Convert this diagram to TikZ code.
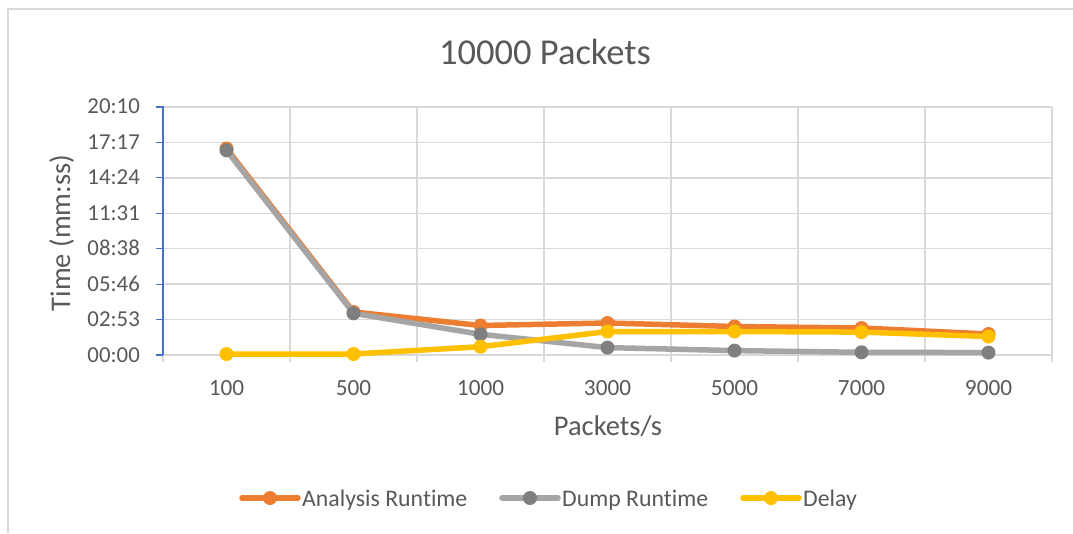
\documentclass[tikz,border=0pt]{standalone}
\usepackage{fontspec}
\setmainfont{Carlito}[Ligatures={NoCommon}]
\definecolor{txt}{HTML}{595959}
\definecolor{gridc}{HTML}{D9D9D9}
\definecolor{axisblue}{HTML}{4472C4}
\definecolor{sorange}{HTML}{ED7D31}
\definecolor{sgray}{HTML}{A5A5A5}
\definecolor{sgraymk}{HTML}{7F7F7F}
\definecolor{syellow}{HTML}{FFC000}
\begin{document}
\begin{tikzpicture}[x=1pt,y=-1pt,
  gridline/.style={draw=gridc, line width=1.4pt},
  series/.style={line width=5.5pt, line join=round, line cap=round},
  mk/.style={circle, inner sep=0pt, minimum size=14pt},
  ticklbl/.style={text=txt, font=\fontsize{22.8}{27}\selectfont, inner sep=0pt},
  legtxt/.style={text=txt, font=\fontsize{23.8}{27}\selectfont, inner sep=0pt, anchor=base west},
  axtitle/.style={text=txt, font=\fontsize{28.5}{32}\selectfont, inner sep=0pt, anchor=base}]
\useasboundingbox (0,0) rectangle (1073,533);
\fill[white] (0,0) rectangle (1073,533);
% chart frame
\draw[gridc, line width=1.6pt] (8,533) -- (8,9) -- (1073,9);
% title
\node[text=txt, font=\fontsize{36.5}{40}\selectfont, inner sep=0pt, anchor=base] (title) at (545,64) {10000 Packets};
% horizontal gridlines and y tick labels
\foreach \i/\lab in {0/00:00,1/02:53,2/05:46,3/08:38,4/11:31,5/14:24,6/17:17,7/20:10}{
  \draw[gridline] (163,{355-35.43*\i}) -- (1052,{355-35.43*\i});
  \node[ticklbl, anchor=base east] (yl\i) at (140,{355-35.43*\i+7}) {\lab};
}
% vertical gridlines (with ticks below axis)
\foreach \k in {0,...,7}{
  \draw[gridline] ({163+127*\k},107) -- ({163+127*\k},362);
}
% value axis
\draw[axisblue, line width=1.1pt] (156,107) -- (163,107) -- (163,355);
\foreach \i in {0,...,6}{
  \draw[axisblue, line width=1.1pt] (156,{355-35.43*\i}) -- (163,{355-35.43*\i});
}
% category labels
\foreach \k/\lab in {0/100,1/500,2/1000,3/3000,4/5000,5/7000,6/9000}{
  \node[ticklbl, font=\fontsize{23.2}{27}\selectfont, anchor=base] (xl\k) at ({226.5+127*\k},395) {\lab};
}
% axis titles
\node[axtitle] (xtitle) at (608,435) {Packets/s};
\node[axtitle, rotate=90] (ytitle) at (70,233) {Time (mm:ss)};
% data coordinates
\foreach \k/\a/\d/\y in {1/148.5/150.3/354,2/312/313.3/354,3/325.5/334.3/346.7,4/323/347.6/331.5,5/326.5/350.6/331.5,6/328/352.3/332.1,7/334/352.6/336.5}{
  \coordinate (a\k) at ({226.5+127*(\k-1)},\a);
  \coordinate (d\k) at ({226.5+127*(\k-1)},\d);
  \coordinate (y\k) at ({226.5+127*(\k-1)},\y);
}
% Analysis Runtime
\draw[series, sorange] (a1) -- (a2) -- (a3) -- (a4) -- (a5) -- (a6) -- (a7);
\foreach \k in {1,...,7}{\node[mk, fill=sorange] (ma\k) at (a\k) {};}
% Dump Runtime
\draw[series, sgray] (d1) -- (d2) -- (d3) -- (d4) -- (d5) -- (d6) -- (d7);
\foreach \k in {1,...,7}{\node[mk, fill=sgraymk] (md\k) at (d\k) {};}
% Delay
\draw[series, syellow] (y1) -- (y2) -- (y3) -- (y4) -- (y5) -- (y6) -- (y7);
\foreach \k in {1,...,7}{\node[mk, fill=syellow] (my\k) at (y\k) {};}
% legend
\coordinate (la0) at (242,498); \coordinate (la1) at (298,498);
\draw[series, sorange] (la0) -- (la1);
\node[mk, fill=sorange] (lam) at (270,498) {};
\node[legtxt] (lat) at (302,506) {Analysis Runtime};
\coordinate (ld0) at (502,498); \coordinate (ld1) at (558,498);
\draw[series, sgray] (ld0) -- (ld1);
\node[mk, fill=sgraymk] (ldm) at (530,498) {};
\node[legtxt] (ldt) at (562,506) {Dump Runtime};
\coordinate (ly0) at (743,498); \coordinate (ly1) at (799,498);
\draw[series, syellow] (ly0) -- (ly1);
\node[mk, fill=syellow] (lym) at (771,498) {};
\node[legtxt] (lyt) at (803,506) {Delay};
\end{tikzpicture}
\end{document}
